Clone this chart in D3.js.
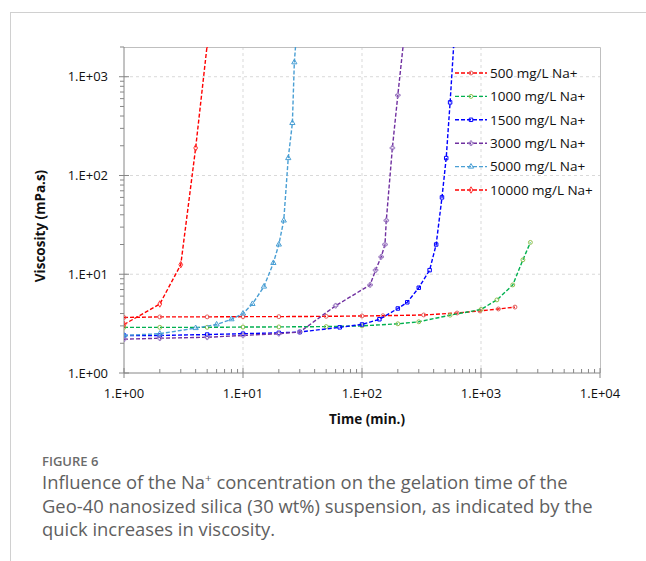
<!DOCTYPE html>
<html>
<head>
<meta charset="utf-8">
<script src="https://cdn.jsdelivr.net/npm/d3@7"></script>
<style>
    body { margin: 0; background: #fff; }
    svg { display: block; }
</style>
</head>
<body>
<svg id="chart" width="646" height="561"></svg>
<script>
// chart data (time in min, viscosity in mPa.s)
const seriesNames = ["500 mg/L Na+", "1000 mg/L Na+", "1500 mg/L Na+", "3000 mg/L Na+", "5000 mg/L Na+", "10000 mg/L Na+"];
const lineColors = ["#ff0000", "#00b050", "#0000ff", "#7030a0", "#4a9fd4", "#ff0000"];
const markerColors = ["#e0605f", "#92c04f", "#0000ff", "#9a78c0", "#4a9fd4", "#ff3030"];

const na500 = [[1, 3.65], [2, 3.7], [5, 3.7], [10, 3.72], [20, 3.72], [50, 3.75], [100, 3.78], [150, 3.8], [330, 3.87], [630, 4.05], [980, 4.25], [1400, 4.45], [1930, 4.65]];
const na1000 = [[1, 2.9], [2, 2.9], [5, 2.9], [10, 2.92], [20, 2.93], [50, 2.95], [100, 3.0], [200, 3.15], [300, 3.3], [550, 3.85], [1000, 4.4], [1360, 5.5], [1850, 7.8], [2250, 14], [2600, 21]];
const na1500 = [[1, 2.4], [2, 2.4], [5, 2.45], [10, 2.5], [20, 2.55], [30, 2.6], [65, 2.9], [100, 3.1], [140, 3.5], [200, 4.5], [240, 5.2], [300, 7.3], [370, 11], [420, 20], [470, 60], [510, 150], [550, 550], [590, 2100]];
const na3000 = [[1, 2.2], [2, 2.25], [5, 2.3], [10, 2.4], [20, 2.5], [30, 2.6], [60, 4.8], [117, 7.8], [130, 11], [145, 15], [156, 20], [160, 35], [180, 190], [200, 650], [222, 2100]];
const na5000 = [[1, 2.4], [2, 2.5], [4, 2.85], [6, 3.1], [8, 3.5], [10, 4.0], [12, 5], [15, 7.5], [18, 13], [20, 20], [22, 35], [24, 150], [26, 340], [27, 1400], [28, 2500]];
const na10000 = [[1, 3.1], [2, 5], [3, 12.5], [4, 190], [5, 2100]];

const xTicks = [1, 10, 100, 1000, 10000];
const yTicks = [1, 10, 100, 1000];
const tickLabels = ["1.E+00", "1.E+01", "1.E+02", "1.E+03", "1.E+04"];

(function() {
    'use strict';

    const allSeries = [na500, na1000, na1500, na3000, na5000, na10000];
    const shapes = [d3.symbolCircle, d3.symbolCircle, d3.symbolSquare, d3.symbolCross, d3.symbolTriangle, d3.symbolDiamond];

    const marginLeft = 124;
    const marginTop = 47;
    const plotRight = 600;
    const plotBottom = 373;

    const svg = d3.select("#chart");

    // page frame lines
    svg.append("line")
        .attr("x1", 10).attr("x2", 646).attr("y1", 12.5).attr("y2", 12.5)
        .attr("stroke", "#d0d0d0");
    svg.append("line")
        .attr("x1", 10.5).attr("x2", 10.5).attr("y1", 12).attr("y2", 561)
        .attr("stroke", "#d0d0d0");

    // SCALES
    const x = d3.scaleLog()
        .domain([1, 10000])
        .range([marginLeft, plotRight]);

    const y = d3.scaleLog()
        .domain([1, 2000])
        .range([plotBottom, marginTop]);

    // GRID
    svg.append("g")
        .selectAll("line")
        .data(xTicks.slice(1, -1))
        .join("line")
        .attr("x1", d => x(d)).attr("x2", d => x(d))
        .attr("y1", marginTop).attr("y2", plotBottom)
        .attr("stroke", "#d9d9d9")
        .attr("stroke-dasharray", "3,3");

    svg.append("g")
        .selectAll("line")
        .data(yTicks.slice(1))
        .join("line")
        .attr("x1", marginLeft).attr("x2", plotRight)
        .attr("y1", d => y(d)).attr("y2", d => y(d))
        .attr("stroke", "#d9d9d9")
        .attr("stroke-dasharray", "3,3");

    // plot frame (top and right)
    svg.append("path")
        .attr("d", `M${marginLeft},${marginTop + 0.5}H${plotRight + 0.5}V${plotBottom}`)
        .attr("fill", "none")
        .attr("stroke", "#bfbfbf");

    // X AXIS
    const xMinor = [];
    for (let d = 1; d < 10000; d *= 10) {
        for (let k = 2; k < 10; k++) xMinor.push(d * k);
    }
    const xAxis = svg.append("g")
        .attr("transform", `translate(0, ${plotBottom})`);
    xAxis.append("line")
        .attr("x1", marginLeft).attr("x2", plotRight)
        .attr("stroke", "#868686");
    xAxis.selectAll(".minor")
        .data(xMinor)
        .join("line")
        .attr("class", "minor")
        .attr("x1", d => x(d)).attr("x2", d => x(d))
        .attr("y1", 0).attr("y2", -4)
        .attr("stroke", "#868686");
    xAxis.selectAll(".major")
        .data(xTicks)
        .join("line")
        .attr("class", "major")
        .attr("x1", d => x(d)).attr("x2", d => x(d))
        .attr("y1", -5).attr("y2", 5)
        .attr("stroke", "#868686");
    xAxis.selectAll("text")
        .data(xTicks)
        .join("text")
        .attr("x", d => x(d))
        .attr("y", 25)
        .attr("text-anchor", "middle")
        .attr("font-family", "'Open Sans', sans-serif")
        .attr("font-size", "13px")
        .attr("fill", "#111")
        .text((d, i) => tickLabels[i]);

    // Y AXIS
    const yMinor = [];
    for (let d = 1; d < 2000; d *= 10) {
        for (let k = 2; k < 10; k++) if (d * k <= 2000) yMinor.push(d * k);
    }
    const yAxis = svg.append("g")
        .attr("transform", `translate(${marginLeft}, 0)`);
    yAxis.append("line")
        .attr("y1", marginTop).attr("y2", plotBottom)
        .attr("stroke", "#868686");
    yAxis.selectAll(".minor")
        .data(yMinor)
        .join("line")
        .attr("class", "minor")
        .attr("x1", 0).attr("x2", -4)
        .attr("y1", d => y(d)).attr("y2", d => y(d))
        .attr("stroke", "#868686");
    yAxis.selectAll(".major")
        .data(yTicks)
        .join("line")
        .attr("class", "major")
        .attr("x1", -5).attr("x2", 5)
        .attr("y1", d => y(d)).attr("y2", d => y(d))
        .attr("stroke", "#868686");
    yAxis.selectAll("text")
        .data(yTicks)
        .join("text")
        .attr("x", -16)
        .attr("y", d => y(d))
        .attr("dy", "0.35em")
        .attr("text-anchor", "end")
        .attr("font-family", "'Open Sans', sans-serif")
        .attr("font-size", "13px")
        .attr("fill", "#111")
        .text((d, i) => tickLabels[i]);

    // AXIS TITLES
    svg.append("text")
        .attr("transform", "translate(45, 226) rotate(-90)")
        .attr("text-anchor", "middle")
        .attr("font-family", "'Open Sans', sans-serif")
        .attr("font-size", "13.5px")
        .attr("font-weight", "bold")
        .attr("fill", "#111")
        .text("Viscosity (mPa.s)");

    svg.append("text")
        .attr("x", 367)
        .attr("y", 424)
        .attr("text-anchor", "middle")
        .attr("font-family", "'Open Sans', sans-serif")
        .attr("font-size", "13.5px")
        .attr("font-weight", "bold")
        .attr("fill", "#111")
        .text("Time (min.)");

    // LINES
    svg.append("clipPath")
        .attr("id", "plotclip")
        .append("rect")
        .attr("x", marginLeft).attr("y", marginTop)
        .attr("width", plotRight - marginLeft).attr("height", plotBottom - marginTop);

    const line = d3.line()
        .x(d => x(d[0]))
        .y(d => y(d[1]));

    const plot = svg.append("g").attr("clip-path", "url(#plotclip)");

    allSeries.forEach(function(data, i) {
        plot.append("path")
            .datum(data)
            .attr("d", line)
            .attr("fill", "none")
            .attr("stroke", lineColors[i])
            .attr("stroke-width", 1.4)
            .attr("stroke-dasharray", "4,2");

        plot.append("g")
            .selectAll("path")
            .data(data)
            .join("path")
            .attr("transform", d => `translate(${x(d[0])}, ${y(d[1])})`)
            .attr("d", d3.symbol().type(shapes[i]).size(12))
            .attr("fill", "none")
            .attr("stroke", markerColors[i])
            .attr("stroke-width", 1);
    });

    // LEGEND
    const legend = svg.append("g")
        .selectAll("g")
        .data(seriesNames)
        .join("g")
        .attr("transform", (d, i) => `translate(455, ${73 + i * 23.4})`);

    legend.append("line")
        .attr("x1", 0).attr("x2", 32)
        .attr("stroke", (d, i) => lineColors[i])
        .attr("stroke-width", 1.4)
        .attr("stroke-dasharray", "4,2");

    legend.append("path")
        .attr("transform", "translate(16, 0)")
        .attr("d", (d, i) => d3.symbol().type(shapes[i]).size(12)())
        .attr("fill", "none")
        .attr("stroke", (d, i) => markerColors[i]);

    legend.append("text")
        .attr("x", 35)
        .attr("dy", "0.35em")
        .attr("font-family", "'Open Sans', sans-serif")
        .attr("font-size", "13.5px")
        .attr("fill", "#111")
        .text(d => d);

    // CAPTION
    svg.append("text")
        .attr("x", 42)
        .attr("y", 466)
        .attr("font-family", "'Open Sans', sans-serif")
        .attr("font-size", "13px")
        .attr("font-weight", "600")
        .attr("fill", "#6b6b6b")
        .text("FIGURE 6");

    const caption = svg.append("text")
        .attr("font-family", "'Open Sans', sans-serif")
        .attr("font-size", "18.4px")
        .attr("fill", "#5f5f5f");

    const line1 = caption.append("tspan").attr("x", 42).attr("y", 489);
    line1.append("tspan").text("Influence of the Na");
    line1.append("tspan").attr("baseline-shift", "super").attr("font-size", "11.5px").text("+");
    line1.append("tspan").text(" concentration on the gelation time of the");

    caption.append("tspan").attr("x", 42).attr("y", 512.5)
        .text("Geo-40 nanosized silica (30 wt%) suspension, as indicated by the");
    caption.append("tspan").attr("x", 42).attr("y", 536)
        .text("quick increases in viscosity.");
})();
</script>
</body>
</html>
